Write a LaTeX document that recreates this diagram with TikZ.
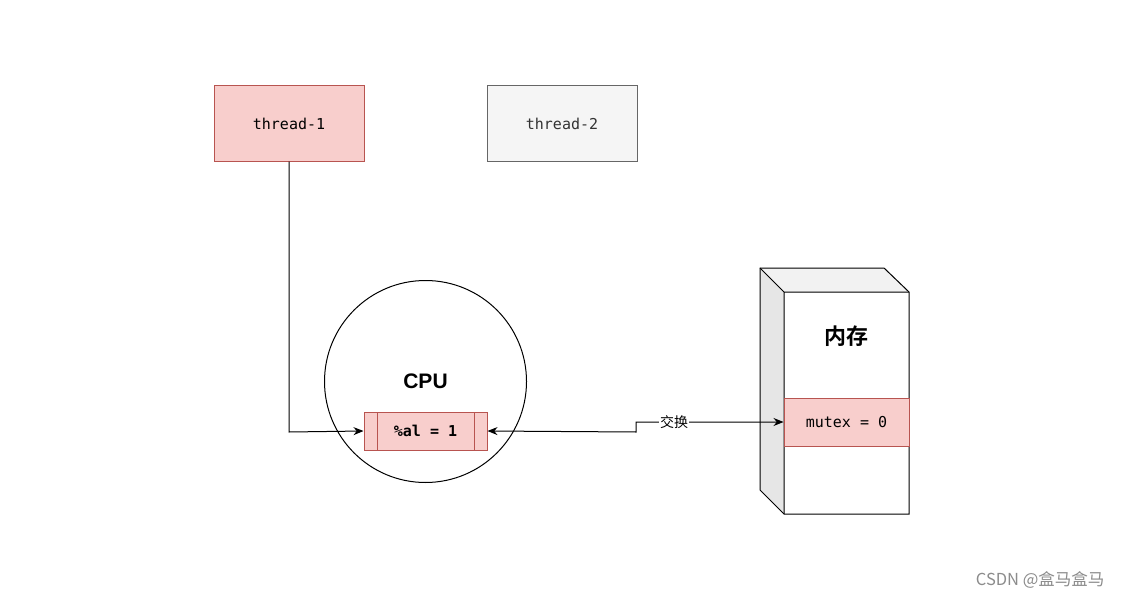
\documentclass[tikz,border=0pt]{standalone}
\usepackage{fontspec}
\usetikzlibrary{arrows.meta}
\setmainfont{Liberation Sans}
\setmonofont{DejaVu Sans Mono}
\newfontfamily\cjk{Noto Sans CJK SC}
\newfontfamily\cjkb{Noto Sans CJK SC Bold}
\definecolor{redfill}{HTML}{F8CECC}
\definecolor{redline}{HTML}{B85450}
\definecolor{greyfill}{HTML}{F5F5F5}
\definecolor{greyline}{HTML}{666666}
\definecolor{sidefill}{HTML}{E6E6E6}
\definecolor{topfill}{HTML}{F2F2F2}
\begin{document}
\begin{tikzpicture}[x=1pt,y=-1pt,
  thr/.style={draw, minimum width=150pt, minimum height=75pt, inner sep=0pt, font=\fontsize{15}{17}\ttfamily},
  conn/.style={draw=black, line width=1pt, -{Stealth[length=10pt,width=8pt]}},
  redbox/.style={draw=redline, fill=redfill, line width=1pt}]
\useasboundingbox (0,0) rectangle (1121,599);
\fill[white] (0,0) rectangle (1121,599);

% threads
\node[thr, redbox] (t1) at (289,123.5) {thread-1};
\node[thr, draw=greyline, fill=greyfill, line width=1pt, text=black!80] (t2) at (562,123.5) {thread-2};

% CPU
\node[draw, circle, minimum size=202pt, inner sep=0pt, line width=1pt] (cpu) at (425.5,381.5) {};
\node[font=\fontsize{21}{23}\bfseries] (cpulbl) at (425.5,381.5) {CPU};
\node[redbox, minimum width=123pt, minimum height=38pt, inner sep=0pt, font=\fontsize{15}{17}\ttfamily\bfseries] (al) at (425.5,431) {\%al = 1};
\draw[redline, line width=1pt] (377,412) -- (377,450) (474,412) -- (474,450);

% memory cube
\fill[sidefill] (760,268) -- (784,292) -- (784,514) -- (760,490) -- cycle;
\fill[topfill] (760,268) -- (884,268) -- (909,292) -- (784,292) -- cycle;
\draw[line width=1pt] (760,268) -- (884,268) -- (909,292) -- (909,514) -- (784,514) -- (760,490) -- cycle;
\draw[line width=1pt] (760,268) -- (784,292) -- (909,292) (784,292) -- (784,514);
\node[font=\fontsize{22}{24}\cjkb] (mem) at (846.5,336) {内存};
\node[redbox, minimum width=125pt, minimum height=48pt, inner sep=0pt, font=\fontsize{15}{17}\ttfamily] (mutex) at (846.5,422) {mutex = 0};

% connectors
\coordinate (b1) at (289,432);
\draw[conn] (t1.south) -- (b1) -- (al.west);
\coordinate (j1) at (636,432);
\coordinate (j2) at (636,422);
\draw[conn, {Stealth[length=10pt,width=8pt]}-{Stealth[length=10pt,width=8pt]}] (al.east) -- (j1) -- (j2) -- (mutex.west);
\node[fill=white, inner sep=1pt, font=\fontsize{14}{16}\cjk] (swap) at (674,422) {交换};

% watermark
\node[anchor=east, text=black!45, font=\fontsize{16.5}{18}\cjk] (wm) at (1108,580) {CSDN @盒马盒马};
\end{tikzpicture}
\end{document}
